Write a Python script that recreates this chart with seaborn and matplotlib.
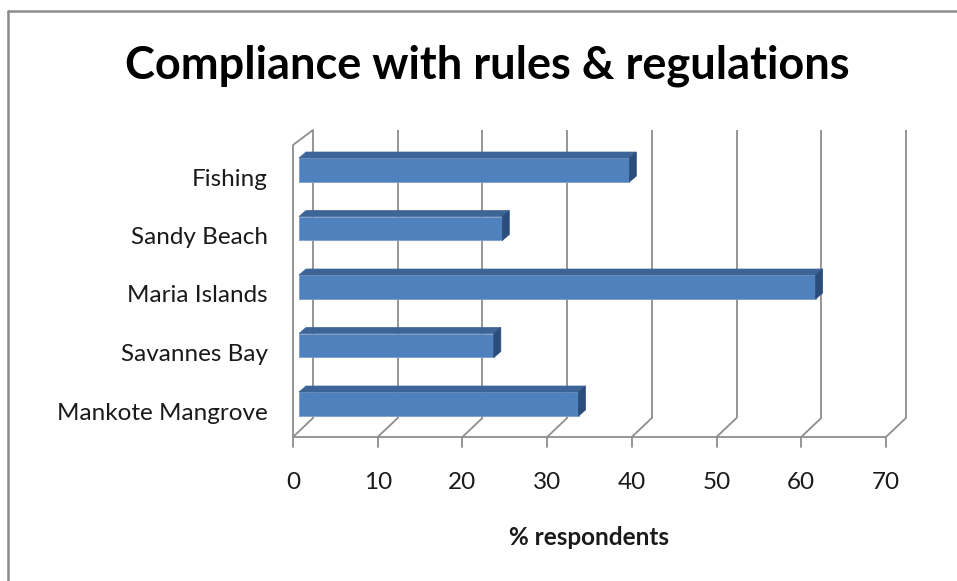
import numpy as np
import pandas as pd
import matplotlib
matplotlib.use("Agg")
import matplotlib.pyplot as plt
from matplotlib.patches import Polygon, Rectangle
from matplotlib.transforms import ScaledTranslation
import seaborn as sns

# data
sites = ['Fishing', 'Sandy Beach', 'Maria Islands', 'Savannes Bay', 'Mankote Mangrove']
pct = [39, 24, 61, 23, 33]
xticks = [0, 10, 20, 30, 40, 50, 60, 70]

df = pd.DataFrame({'Site': sites, 'Respondents': pct})

sns.set_style("white")
plt.rcParams['font.family'] = ['Lato', 'DejaVu Sans']

W, H = 957, 581
fig = plt.figure(figsize=(W / 100, H / 100), dpi=100)

# axes box in pixels (left/right/top/bottom of the drawing area)
L, R, T, B = 293, 907, 128, 447
ax = fig.add_axes([L / W, 1 - B / H, (R - L) / W, (B - T) / H])

px_x = 84.7 / 10      # pixels per % unit
px_y = 58.5           # pixels per category step
cat0 = 170            # pixel row of first category
ux = 1 / px_x
uy = 1 / px_y

def yrow(p):
    return (p - cat0) / px_y

ax.set_xlim(0, (R - L) * ux)
ax.set_ylim(yrow(B), yrow(T))

grid_c = '#8E8E8E'
front_y = yrow(437)
back_y = yrow(418)
top_y = yrow(130)
dx = 20 * ux

# back wall gridlines, floor diagonals and tick marks
for v in xticks:
    ax.plot([v + dx, v + dx], [back_y, top_y], color=grid_c, lw=1.3, zorder=1, solid_capstyle='butt')
    ax.plot([v, v + dx], [front_y, back_y], color=grid_c, lw=1.3, zorder=1)
    ax.plot([v, v], [front_y, yrow(B)], color=grid_c, lw=1.3, zorder=1, clip_on=False)
ax.plot([0, xticks[-1]], [front_y, front_y], color=grid_c, lw=1.3, zorder=1)
# left side wall
ax.plot([0, 0, dx], [front_y, yrow(145), top_y], color=grid_c, lw=1.3, zorder=1, clip_on=False)

# bars (front faces)
sns.barplot(data=df, x='Respondents', y='Site', orient='h', width=0.41,
            color='#4F81BD', saturation=1, edgecolor='#7C9DCB', linewidth=0.6,
            zorder=3, ax=ax)

# shift faces right and add top / side faces for the 3D look
off = 6 * ux
bx, by = 7 * ux, 6 * uy
for p in ax.patches:
    if not isinstance(p, Rectangle):
        continue
    p.set_x(p.get_x() + off)
    x0 = p.get_x()
    x1 = x0 + p.get_width()
    yt = min(p.get_y(), p.get_y() + p.get_height())
    yb = max(p.get_y(), p.get_y() + p.get_height())
    ax.add_patch(Polygon([(x0, yt), (x1, yt), (x1 + bx, yt - by), (x0 + bx, yt - by)],
                         closed=True, facecolor='#3D6496', edgecolor='#3D6496', lw=0.5, zorder=3))
    ax.add_patch(Polygon([(x1, yt), (x1 + bx, yt - by), (x1 + bx, yb - by), (x1, yb)],
                         closed=True, facecolor='#2C4D7B', edgecolor='#2C4D7B', lw=0.5, zorder=3))

ax.set_xlim(0, (R - L) * ux)
ax.set_ylim(yrow(B), yrow(T))
sns.despine(ax=ax, left=True, bottom=True)

ax.set_xticks(xticks)
ax.set_xticklabels([str(v) for v in xticks], fontsize=17.5, color='#1a1a1a')
ax.tick_params(axis='x', length=0, pad=18)
ax.tick_params(axis='y', length=0, pad=18)
for lab in ax.get_yticklabels():
    lab.set_fontsize(17.5)
    lab.set_color('#1a1a1a')
    lab.set_transform(lab.get_transform() + ScaledTranslation(0, -7 / 100, fig.dpi_scale_trans))

ax.set_ylabel('')
ax.set_xlabel('% respondents', fontsize=17.5, fontweight='bold', color='#1a1a1a')
ax.xaxis.set_label_coords((589 - L) / (R - L), (B - 526) / (B - T))

fig.text(487 / W, 1 - 66 / H, 'Compliance with rules & regulations',
         ha='center', va='center', fontsize=32.5, fontweight='bold', color='black')

# chart border (only top and left fall inside the picture)
fig.add_artist(plt.Line2D([8 / W, 8 / W], [0, 1 - 11 / H], color='#8C8C8C', lw=1.8,
                          transform=fig.transFigure))
fig.add_artist(plt.Line2D([8 / W, 1], [1 - 11 / H, 1 - 11 / H], color='#8C8C8C', lw=1.8,
                          transform=fig.transFigure))

fig.savefig('out.png', dpi=100, facecolor='white')
